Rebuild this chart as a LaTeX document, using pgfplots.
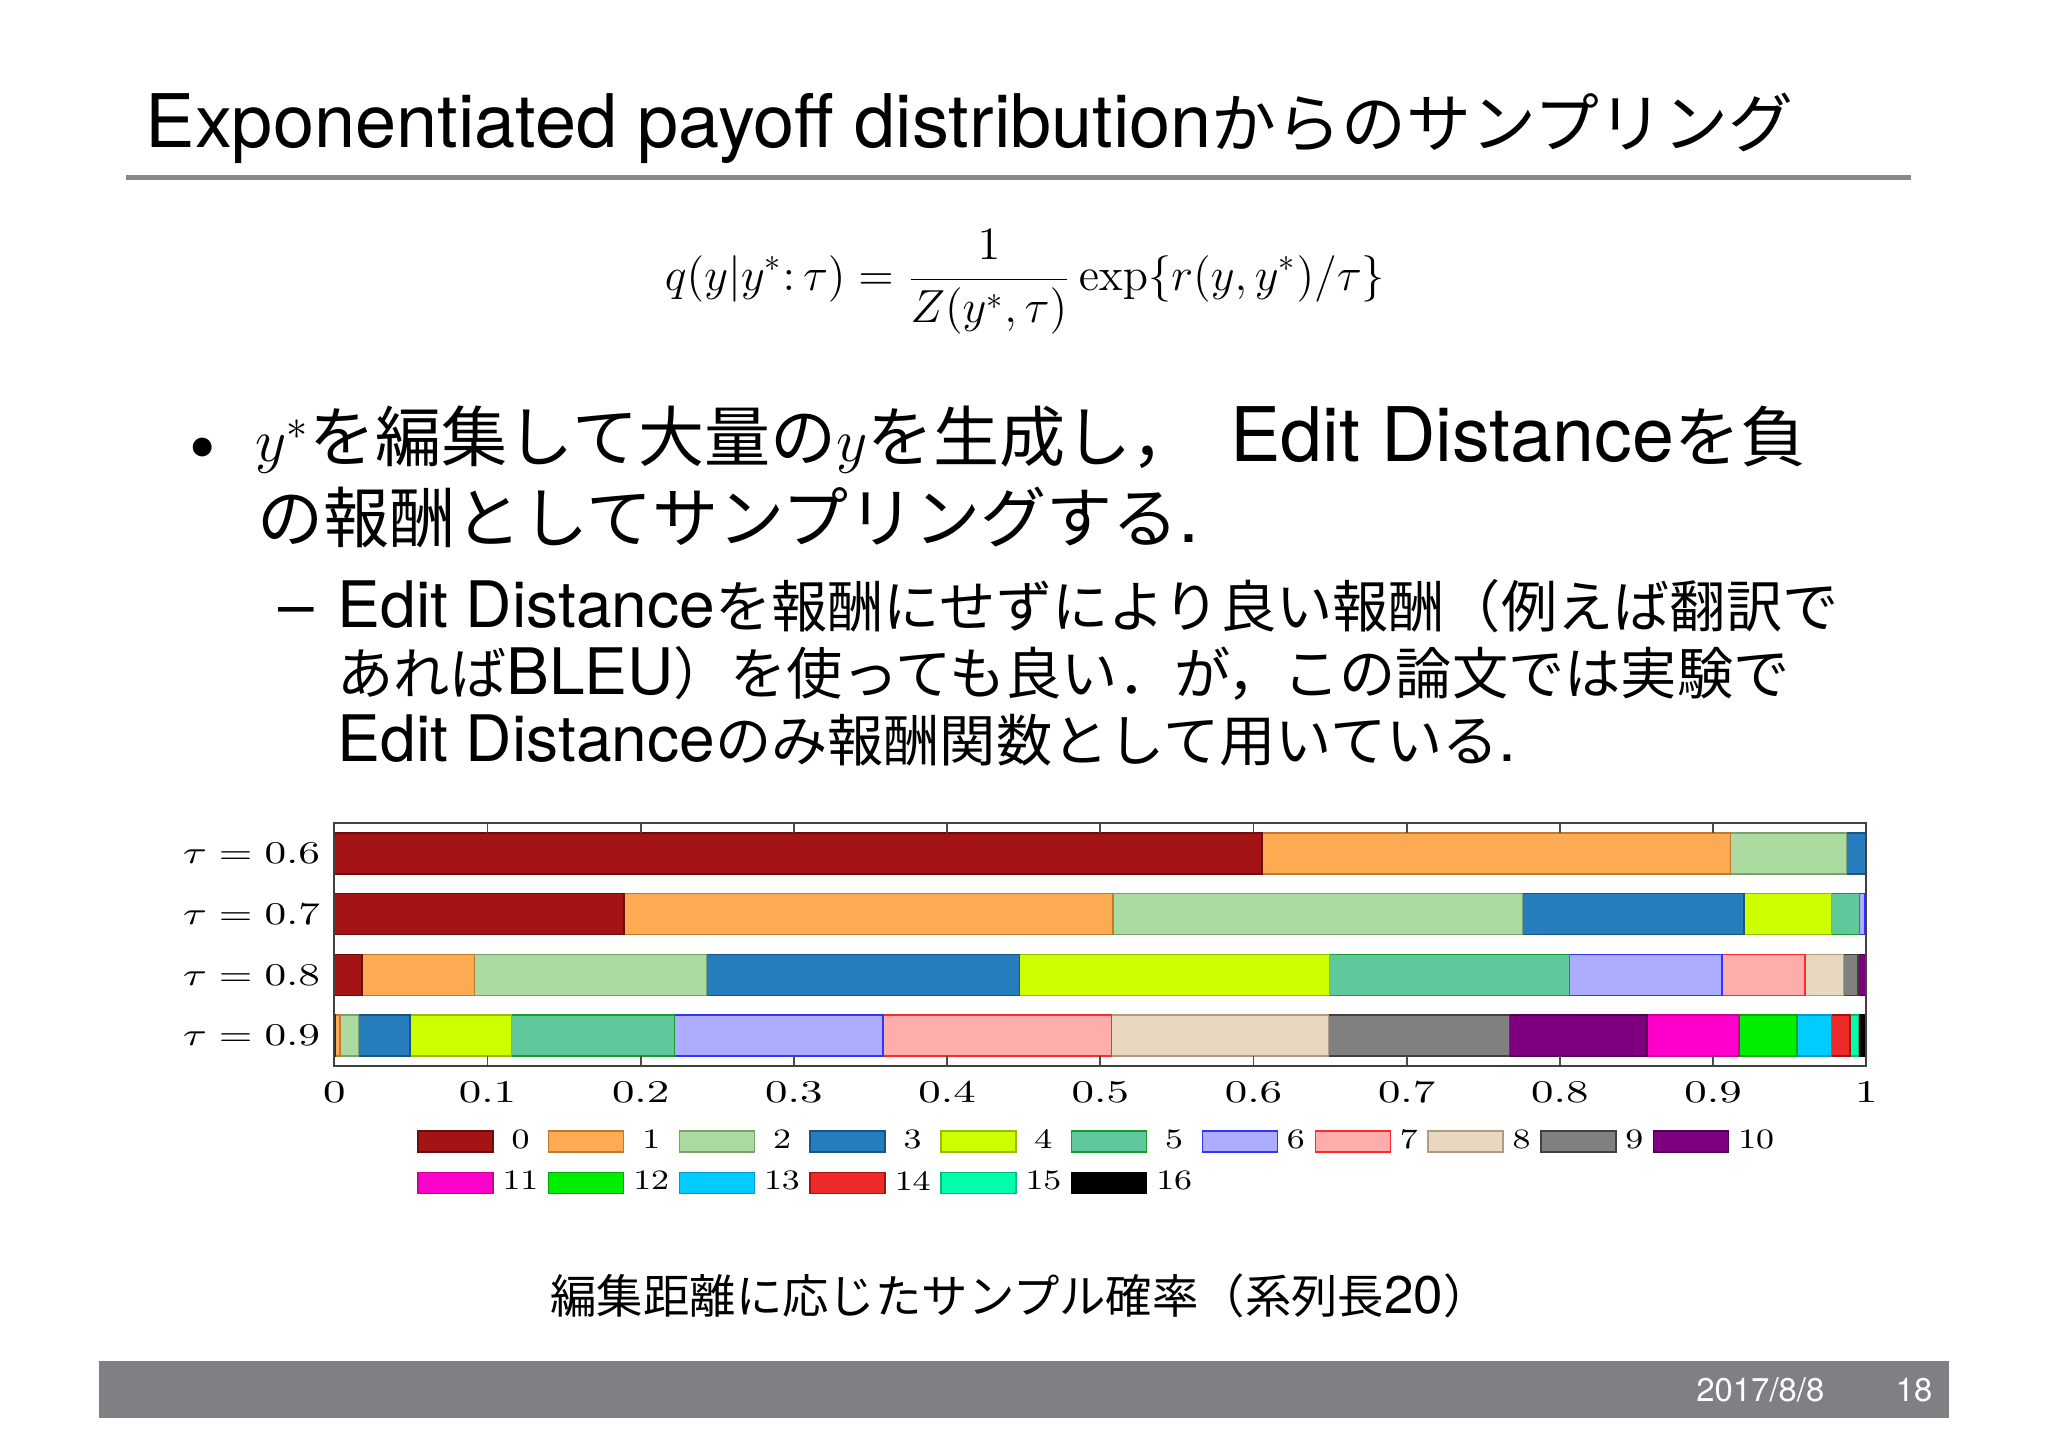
\documentclass[border=0pt]{standalone}
\usepackage[no-math]{fontspec}
\usepackage{graphicx}
\usepackage{pgfplots}
\pgfplotsset{compat=1.18}
\newfontfamily\jp{Noto Sans CJK JP}
\newfontfamily\hv[Scale=1.14]{TeX Gyre Heros}
\newcommand\LT[1]{{\hv #1}}
\newcommand\SX[1]{\scalebox{1.38}[1]{$#1$}}
\newcommand\SY[1]{\scalebox{1.33}[1]{$#1$}}
\newcommand\LEG[1]{\scalebox{1.2}[1]{#1}}
\definecolor{c0}{HTML}{A51414}\definecolor{e0}{HTML}{6B0D0D}
\definecolor{c1}{HTML}{FDAB53}\definecolor{e1}{HTML}{C07A30}
\definecolor{c2}{HTML}{ABDBA0}\definecolor{e2}{HTML}{7AA070}
\definecolor{c3}{HTML}{267DBE}\definecolor{e3}{HTML}{1A5580}
\definecolor{c4}{HTML}{CCFF00}\definecolor{e4}{HTML}{99BB00}
\definecolor{c5}{HTML}{5FC99B}\definecolor{e5}{HTML}{1A9A30}
\definecolor{c6}{HTML}{ADADFF}\definecolor{e6}{HTML}{3333FF}
\definecolor{c7}{HTML}{FFACAC}\definecolor{e7}{HTML}{FF2A2A}
\definecolor{c8}{HTML}{E8D8C2}\definecolor{e8}{HTML}{B09A80}
\definecolor{c9}{HTML}{808080}\definecolor{e9}{HTML}{404040}
\definecolor{c10}{HTML}{7F007F}\definecolor{e10}{HTML}{500050}
\definecolor{c11}{HTML}{FF00CC}\definecolor{e11}{HTML}{CC0099}
\definecolor{c12}{HTML}{00EE00}\definecolor{e12}{HTML}{00AA00}
\definecolor{c13}{HTML}{00CCFF}\definecolor{e13}{HTML}{0099CC}
\definecolor{c14}{HTML}{EE2B2B}\definecolor{e14}{HTML}{AA1111}
\definecolor{c15}{HTML}{00FFAA}\definecolor{e15}{HTML}{00BB80}
\definecolor{c16}{HTML}{000000}\definecolor{e16}{HTML}{000000}
\definecolor{footgray}{HTML}{807F83}
\definecolor{rulegray}{HTML}{888888}
\pgfplotsset{bst/.style={line width=0.4pt,
  legend image code/.code={\draw[##1] (0cm,-0.105cm) rectangle (0.75cm,0.105cm);}}}
\begin{document}
\begin{tikzpicture}
\fill[white] (0,0) rectangle (20.48,14.48);
% title
\node[anchor=base west, inner sep=0pt] at (1.45,13.00)
  {\fontsize{18.45}{22}\selectfont{\hv Exponentiated payoff distribution}{\jp からのサンプリング}};
\draw[rulegray, line width=0.05cm] (1.26,12.705) -- (19.11,12.705);
% formula
\node[inner sep=0pt] at (10.25,11.66)
  {\scalebox{0.917}{\fontsize{14.4}{17}\selectfont $\displaystyle q(y|y^{*}{:}\,\tau)=\frac{1}{Z(y^{*},\tau)}\exp\{r(y,y^{*})/\tau\}$}};
% bullet
\node[anchor=base west, inner sep=0pt] at (1.89,9.74) {\fontsize{18.8}{22}\selectfont\hv •};
\node[anchor=base west, inner sep=0pt] at (2.55,9.86)
  {\fontsize{18.8}{22}\selectfont\jp $y^{*}$を編集して大量の$y$を生成し，};
\node[anchor=base west, inner sep=0pt] at (12.30,9.86)
  {\fontsize{18.8}{22}\selectfont\jp \LT{Edit Distance}を負};
\node[anchor=base west, inner sep=0pt] at (2.57,9.05)
  {\fontsize{18.8}{22}\selectfont\jp の報酬としてサンプリングする\LT{.}};
% sub bullet
\node[anchor=base west, inner sep=0pt] at (2.78,8.20) {\fontsize{16}{19}\selectfont\hv –};
\node[anchor=base west, inner sep=0pt] at (3.37,8.20)
  {\fontsize{16}{19}\selectfont\jp \LT{Edit Distance}を報酬にせずにより良い報酬（例えば翻訳で};
\node[anchor=base west, inner sep=0pt] at (3.37,7.53)
  {\fontsize{16}{19}\selectfont\jp あれば\LT{BLEU}）を使っても良い．が，この論文では実験で};
\node[anchor=base west, inner sep=0pt] at (3.37,6.86)
  {\fontsize{16}{19}\selectfont\jp \LT{Edit Distance}のみ報酬関数として用いている\LT{.}};
% caption
\node[anchor=base, inner sep=0pt] at (10.20,1.35)
  {\fontsize{13.2}{15}\selectfont\jp 編集距離に応じたサンプル確率（系列長\LT{20}）};
% footer
\fill[footgray] (0.99,0.30) rectangle (19.49,0.87);
\node[anchor=base east, inner sep=0pt, white] at (18.25,0.46) {\fontsize{8.2}{10}\selectfont\hv 2017/8/8};
\node[anchor=base east, inner sep=0pt, white] at (19.33,0.46) {\fontsize{8.2}{10}\selectfont\hv 18};
% chart
\begin{axis}[
  at={(3.343cm,3.82cm)}, anchor=south west,
  scale only axis, width=15.32cm, height=2.43cm,
  xbar stacked, bar width=0.41cm,
  xmin=0, xmax=1, ymin=0.5, ymax=4.5,
  axis on top,
  axis line style={black!75, line width=0.6pt},
  tick style={black!70, line width=0.5pt},
  major tick length=0.1cm,
  xtick={0,0.1,0.2,0.3,0.4,0.5,0.6,0.7,0.8,0.9,1},
  xticklabels={\SX{0},\SX{0.1},\SX{0.2},\SX{0.3},\SX{0.4},\SX{0.5},\SX{0.6},\SX{0.7},\SX{0.8},\SX{0.9},\SX{1}},
  ytick={1,2,3,4},
  yticklabels={\SY{\tau = 0.9},\SY{\tau = 0.8},\SY{\tau = 0.7},\SY{\tau = 0.6}},
  ytick style={draw=none},
  ticklabel style={font=\fontsize{9}{10}\selectfont},
  xticklabel style={yshift=-0.04cm},
  yticklabel style={xshift=-0.02cm},
  legend columns=11,
  legend cell align=center,
  legend style={at={(0.497,-0.258)}, anchor=north, draw=none, fill=none, inner sep=0pt,
    column sep=0.089cm, /tikz/every even column/.append style={column sep=0.096cm},
    row sep=0.174cm, font=\fontsize{8}{9}\selectfont, nodes={inner sep=0pt}},
]
\addplot[bst, fill=c0, draw=e0] coordinates {(0.6056,4) (0.1890,3) (0.0180,2) (0.0004,1)};
\addplot[bst, fill=c1, draw=e1] coordinates {(0.3056,4) (0.3193,3) (0.0735,2) (0.0033,1)};
\addplot[bst, fill=c2, draw=e2] coordinates {(0.0759,4) (0.2673,3) (0.1514,2) (0.0120,1)};
\addplot[bst, fill=c3, draw=e3] coordinates {(0.0122,4) (0.1445,3) (0.2044,2) (0.0337,1)};
\addplot[bst, fill=c4, draw=e4] coordinates {(0.0004,4) (0.0571,3) (0.2022,2) (0.0664,1)};
\addplot[bst, fill=c5, draw=e5] coordinates {(0.0003,4) (0.0182,3) (0.1568,2) (0.1062,1)};
\addplot[bst, fill=c6, draw=e6] coordinates {(0,4) (0.0033,3) (0.0996,2) (0.1361,1)};
\addplot[bst, fill=c7, draw=e7] coordinates {(0,4) (0.0005,3) (0.0542,2) (0.1491,1)};
\addplot[bst, fill=c8, draw=e8] coordinates {(0,4) (0.0003,3) (0.0250,2) (0.1416,1)};
\addplot[bst, fill=c9, draw=e9] coordinates {(0,4) (0.0002,3) (0.0096,2) (0.1182,1)};
\addplot[bst, fill=c10, draw=e10] coordinates {(0,4) (0.0003,3) (0.0053,2) (0.0898,1)};
\addplot[bst, fill=c11, draw=e11] coordinates {(0,4) (0,3) (0,2) (0.0600,1)};
\addplot[bst, fill=c12, draw=e12] coordinates {(0,4) (0,3) (0,2) (0.0380,1)};
\addplot[bst, fill=c13, draw=e13] coordinates {(0,4) (0,3) (0,2) (0.0224,1)};
\addplot[bst, fill=c14, draw=e14] coordinates {(0,4) (0,3) (0,2) (0.0122,1)};
\addplot[bst, fill=c15, draw=e15] coordinates {(0,4) (0,3) (0,2) (0.0056,1)};
\addplot[bst, fill=c16, draw=e16] coordinates {(0,4) (0,3) (0,2) (0.0050,1)};
\legend{\LEG{0},\LEG{1},\LEG{2},\LEG{3},\LEG{4},\LEG{5},\LEG{6},\LEG{7},\LEG{8},\LEG{9},\LEG{10},\LEG{11},\LEG{12},\LEG{13},\LEG{14},\LEG{15},\LEG{16}}
\end{axis}
\end{tikzpicture}
\end{document}
